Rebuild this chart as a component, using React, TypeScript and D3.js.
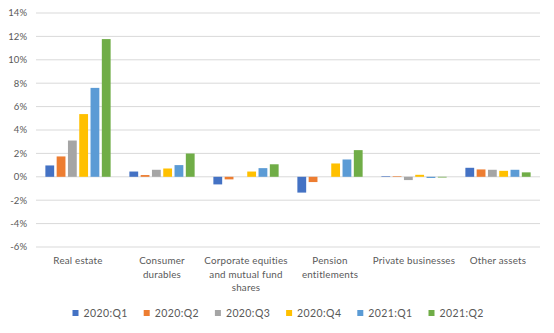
import React from "react";
import * as d3 from "d3";

const categories = [
  ["Real estate"],
  ["Consumer", "durables"],
  ["Corporate equities", "and mutual fund", "shares"],
  ["Pension", "entitlements"],
  ["Private businesses"],
  ["Other assets"],
];
const seriesNames = ["2020:Q1", "2020:Q2", "2020:Q3", "2020:Q4", "2021:Q1", "2021:Q2"];
const colors = ["#4472C4", "#ED7D31", "#A5A5A5", "#FFC000", "#5B9BD5", "#70AD47"];
const s2020Q1 = [0.97, 0.45, -0.65, -1.35, 0.05, 0.77];
const s2020Q2 = [1.74, 0.15, -0.22, -0.45, 0.05, 0.63];
const s2020Q3 = [3.1, 0.6, 0.0, 0.0, -0.28, 0.6];
const s2020Q4 = [5.36, 0.71, 0.45, 1.14, 0.17, 0.51];
const s2021Q1 = [7.6, 1.0, 0.74, 1.48, -0.1, 0.6];
const s2021Q2 = [11.77, 1.99, 1.07, 2.28, -0.06, 0.38];
const seriesValues = [s2020Q1, s2020Q2, s2020Q3, s2020Q4, s2021Q1, s2021Q2];
const yTicks = [-6, -4, -2, 0, 2, 4, 6, 8, 10, 12, 14];

const W = 554, H = 333;
const FONT = "Lato, 'Open Sans', sans-serif";

export default function App() {
  const catKeys = categories.map((c) => c.join(" "));
  const x0 = d3.scaleBand<string>().domain(catKeys).range([36, 540]);
  const x1 = d3
    .scaleBand<string>()
    .domain(seriesNames)
    .range([0, x0.bandwidth()])
    .paddingInner(0.22)
    .paddingOuter(0.83);
  const y = d3.scaleLinear().domain([-6, 14]).range([247, 13]);

  return (
    <div style={{ position: "fixed", left: 0, top: 0 }}>
      <svg width={W} height={H} style={{ display: "block", background: "#fff" }}>
        {yTicks.map((t) => (
          <g key={t}>
            <line x1={36} x2={540} y1={y(t)} y2={y(t)} stroke="#D9D9D9" strokeWidth={1} />
            <text
              x={27}
              y={y(t)}
              dy="0.35em"
              textAnchor="end"
              fontFamily={FONT}
              fontSize={9.5}
              fill="#595959"
            >
              {t}%
            </text>
          </g>
        ))}
        {seriesValues.map((vals, si) =>
          vals.map((v, ci) => {
            const xx = (x0(catKeys[ci]) as number) + (x1(seriesNames[si]) as number);
            const y0 = y(0);
            const yv = y(v);
            return (
              <rect
                key={`${si}-${ci}`}
                x={xx}
                y={Math.min(y0, yv)}
                width={x1.bandwidth()}
                height={Math.abs(yv - y0)}
                fill={colors[si]}
              />
            );
          })
        )}
        {categories.map((lines, ci) => {
          const cx = (x0(catKeys[ci]) as number) + x0.bandwidth() / 2;
          return (
            <text
              key={ci}
              textAnchor="middle"
              fontFamily={FONT}
              fontSize={9.8}
              letterSpacing={0.2}
              fill="#595959"
            >
              {lines.map((l, li) => (
                <tspan key={li} x={cx} y={264 + li * 13.7}>
                  {l}
                </tspan>
              ))}
            </text>
          );
        })}
        {seriesNames.map((s, i) => {
          const lx = 72.5 + i * 71.2;
          return (
            <g key={s}>
              <rect x={lx} y={310} width={6} height={6} fill={colors[i]} />
              <text x={lx + 11} y={313} dy="0.35em" fontFamily={FONT} fontSize={10.5} letterSpacing={0.4} fill="#595959">
                {s}
              </text>
            </g>
          );
        })}
      </svg>
    </div>
  );
}
